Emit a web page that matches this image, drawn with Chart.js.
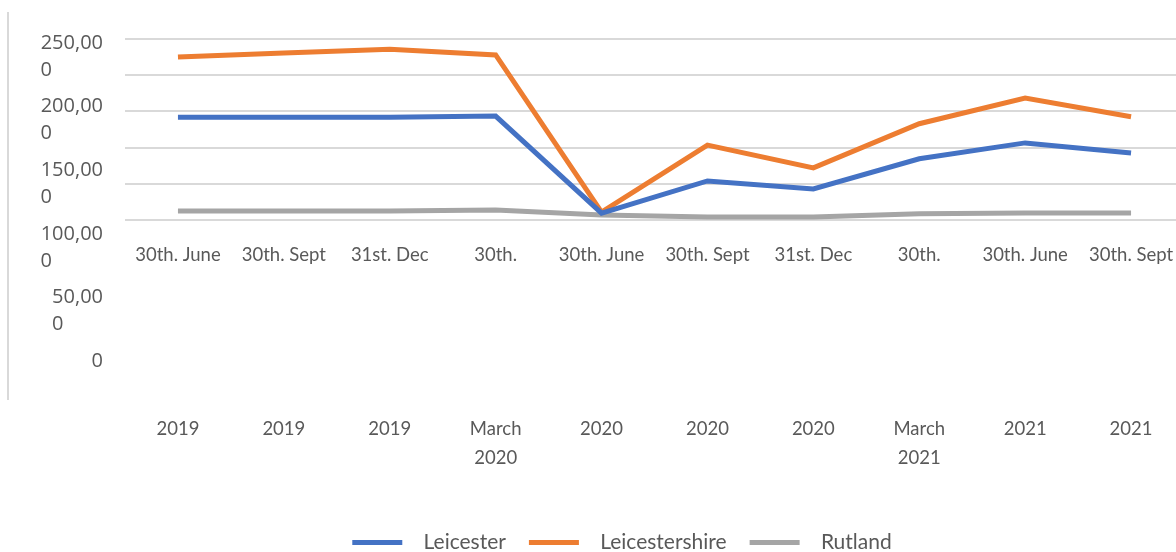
<!DOCTYPE html>
<html>
<head>
<meta charset="utf-8">
<script src="https://cdn.jsdelivr.net/npm/chart.js@4.4.1/dist/chart.umd.min.js"></script>
<style>
  html, body { margin: 0; padding: 0; background: #fff; }
  #page { position: relative; width: 1176px; height: 552px; overflow: hidden; }
  #edge { position: absolute; left: 7px; top: 12px; width: 2px; height: 388px; background: #d9d9d9; }
  #box { position: absolute; left: 8px; top: 0; width: 1228px; height: 563px; }
</style>
</head>
<body>
<div id="page">
  <div id="edge"></div>
  <div id="box"><canvas id="chart"></canvas></div>
</div>
<script>
// quarter-end dates, split the way the original wrapped them
const periodLabels = ["30th. June", "30th. Sept", "31st. Dec", "30th.", "30th. June",
                      "30th. Sept", "31st. Dec", "30th.", "30th. June", "30th. Sept"];
const yearLabels = [["2019"], ["2019"], ["2019"], ["March", "2020"], ["2020"],
                    ["2020"], ["2020"], ["March", "2021"], ["2021"], ["2021"]];

const leicester      = [142000, 142000, 142000, 143500,  9500,  54000, 43000,  84500, 106500,  92500];
const leicestershire = [225000, 230500, 236000, 228000, 11000, 103500, 72000, 133000, 168500, 142500];
const rutland        = [ 12500,  12500,  12500,  13800,  6900,   4300,  4300,   8600,   9600,   9600];

const yTicks = [0, 50000, 100000, 150000, 200000, 250000];
const yMax = 250000;

const textColor = '#595959';
const ZERO_Y = 220;       // where 0 sits for the lines
const LABEL_ZERO_Y = 357; // where the "0" tick label sits

// excel wrapped "250,000" into "250,00" / "0"
function wrapNumber(v) {
  const s = v.toLocaleString('en-GB');
  if (s.length < 2) return [s, ''];
  const head = s.slice(0, -1);
  const pad = head.slice(1).replace(/\d/g, '\u2007').replace(/,/g, '\u2008');
  return [head, s.slice(-1) + pad];
}

const labels = periodLabels.map((p, i) => [p, '', '', '', '', ''].concat(yearLabels[i]));

const fixedTicks = scale => {
  scale.ticks = yTicks.map(v => ({ value: v }));
};

const ctx = document.getElementById('chart');
const chart = new Chart(ctx, {
  type: 'line',
  data: {
    labels: labels,
    datasets: [
      { label: 'Leicester', data: leicester, borderColor: '#4472C4', backgroundColor: '#4472C4' },
      { label: 'Leicestershire', data: leicestershire, borderColor: '#ED7D31', backgroundColor: '#ED7D31' },
      { label: 'Rutland', data: rutland, borderColor: '#A5A5A5', backgroundColor: '#A5A5A5' }
    ]
  },
  options: {
    responsive: true,
    maintainAspectRatio: false,
    animation: false,
    datasets: {
      line: { borderWidth: 5, pointRadius: 0, pointHoverRadius: 0, tension: 0, fill: false, borderJoinStyle: 'miter' }
    },
    layout: { padding: { top: 39, left: 27, right: 27, bottom: 0 } },
    plugins: {
      tooltip: { enabled: false },
      legend: {
        position: 'bottom',
        labels: {
          color: textColor,
          font: { family: 'Lato', size: 21 },
          boxWidth: 50,
          boxHeight: 5,
          padding: 23,
          generateLabels: (c) => Chart.defaults.plugins.legend.labels.generateLabels(c)
            .map(item => Object.assign(item, { text: '  ' + item.text, lineWidth: 0 }))
        }
      }
    },
    scales: {
      x: {
        type: 'category',
        offset: true,
        position: { y: 0 },
        grid: { display: false, drawTicks: false },
        border: { display: false },
        ticks: {
          autoSkip: false,
          maxRotation: 0,
          color: textColor,
          padding: 20.5,
          font: { family: 'Lato', size: 18.5, lineHeight: 29 / 18.5 }
        }
      },
      y: {
        position: 'right',
        min: -190000,
        max: yMax,
        afterBuildTicks: fixedTicks,
        afterFit: s => { s.width = 25; s.paddingTop = 0; s.paddingBottom = 0; },
        grid: { color: '#d9d9d9', lineWidth: 2, drawTicks: false },
        border: { display: false },
        ticks: { display: false }
      },
      yl: {
        position: 'left',
        min: -120000,
        max: yMax,
        afterBuildTicks: fixedTicks,
        afterFit: s => { s.width = 90; s.paddingTop = 0; s.paddingBottom = 0; },
        grid: { display: false, drawTicks: false },
        border: { display: false },
        ticks: {
          color: textColor,
          padding: 22,
          labelOffset: 17.5,
          font: { family: 'Open Sans', size: 20, lineHeight: 1.35 },
          callback: v => wrapNumber(v)
        }
      }
    }
  }
});

// second pass: now that the plot box is known, pin 0 for the lines and the labels
function fitScales(c) {
  const area = c.chartArea;
  const ppu = (ZERO_Y - area.top) / yMax;
  c.options.scales.y.min = -(area.bottom - ZERO_Y) / ppu;
  const ppl = (LABEL_ZERO_Y - area.top) / yMax;
  c.options.scales.yl.min = -(area.bottom - LABEL_ZERO_Y) / ppl;
  c.update('none');
}
fitScales(chart);
</script>
</body>
</html>
